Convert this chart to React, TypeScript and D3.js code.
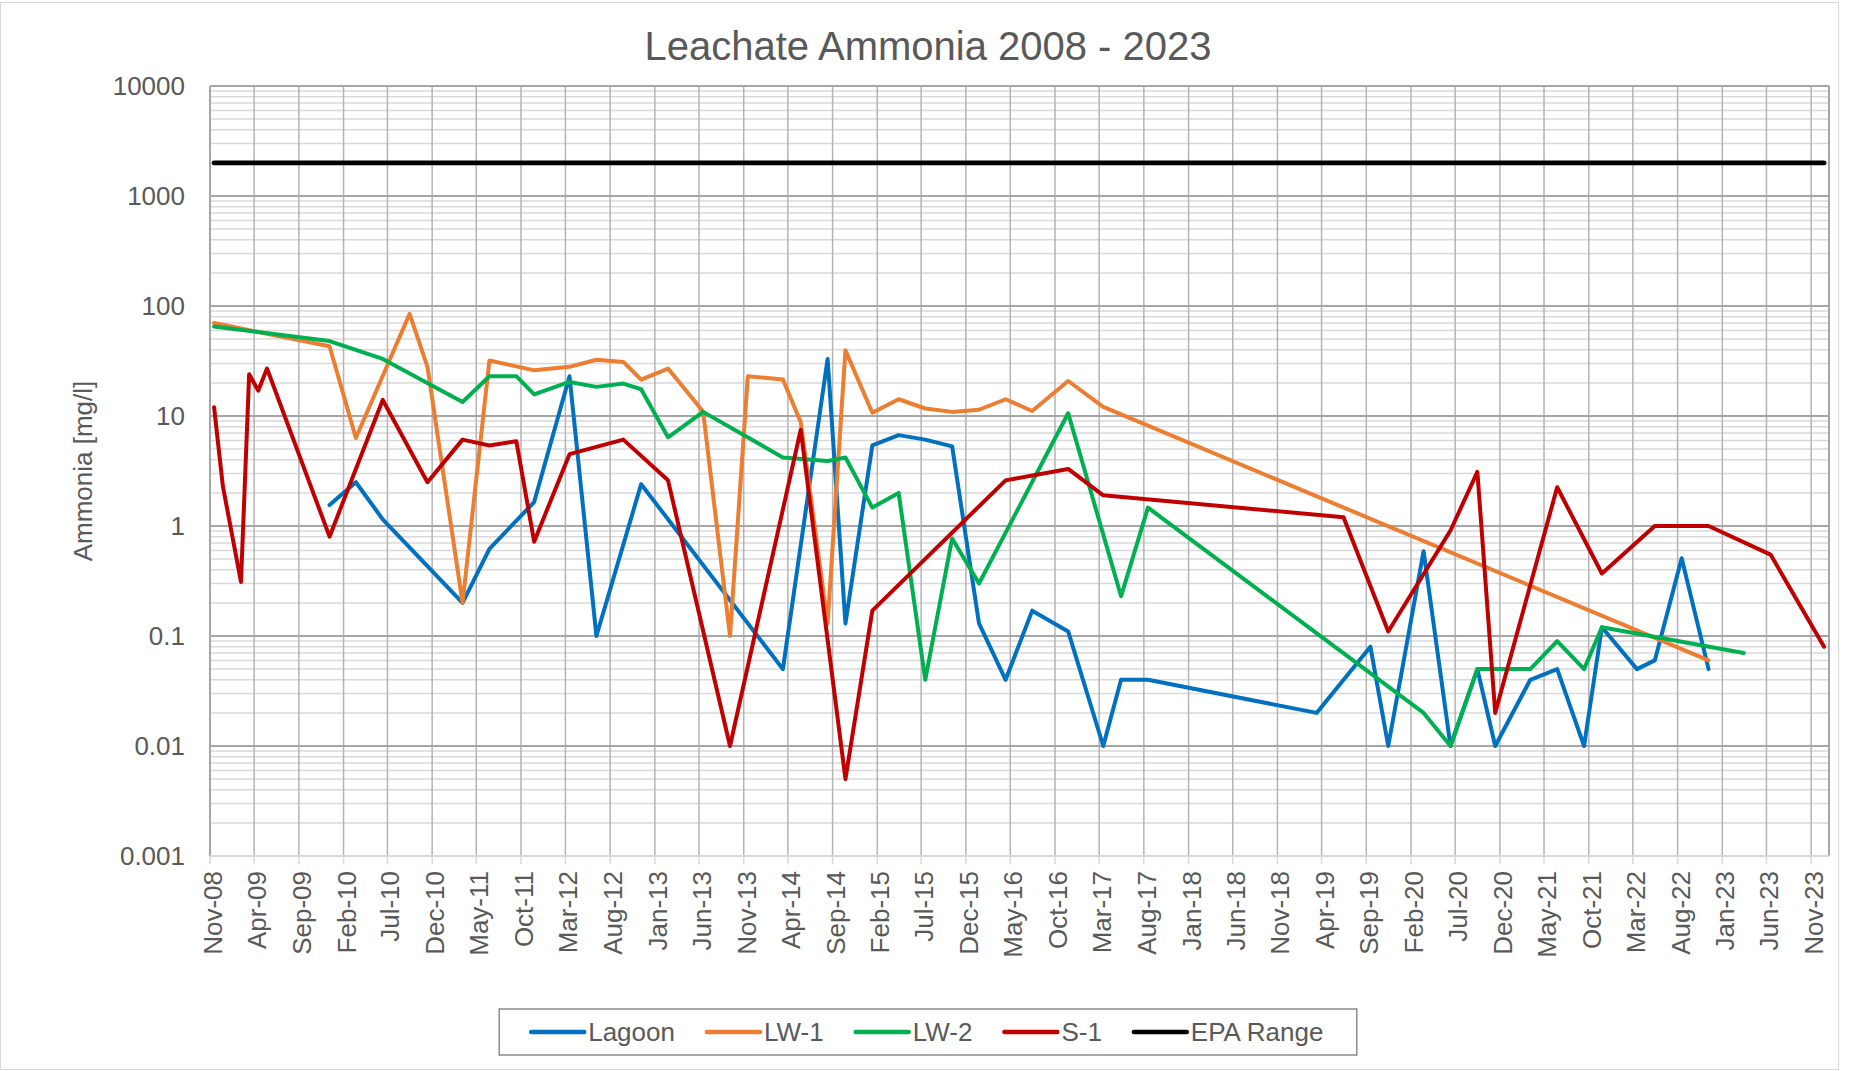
import React, { useEffect, useRef } from "react";
import * as d3 from "d3";

// sampling data (month of sample, value in mg/l)
const tickLabels = ["Nov-08", "Apr-09", "Sep-09", "Feb-10", "Jul-10", "Dec-10", "May-11", "Oct-11", "Mar-12", "Aug-12",
  "Jan-13", "Jun-13", "Nov-13", "Apr-14", "Sep-14", "Feb-15", "Jul-15", "Dec-15", "May-16", "Oct-16", "Mar-17",
  "Aug-17", "Jan-18", "Jun-18", "Nov-18", "Apr-19", "Sep-19", "Feb-20", "Jul-20", "Dec-20", "May-21", "Oct-21",
  "Mar-22", "Aug-22", "Jan-23", "Jun-23", "Nov-23"];

const yTicks = [0.001, 0.01, 0.1, 1, 10, 100, 1000, 10000];

const lagoonDates = ["2009-12", "2010-03", "2010-06", "2011-03", "2011-06", "2011-11", "2012-03", "2012-06", "2012-11", "2014-03",
  "2014-08", "2014-10", "2015-01", "2015-04", "2015-07", "2015-10", "2016-01", "2016-04", "2016-07", "2016-11",
  "2017-03", "2017-05", "2017-08", "2019-03", "2019-09", "2019-11", "2020-03", "2020-06", "2020-09", "2020-11",
  "2021-03", "2021-06", "2021-09", "2021-11", "2022-03", "2022-05", "2022-08", "2022-11"];
const lagoonValues = [1.55, 2.5, 1.15, 0.2, 0.62, 1.65, 23, 0.1, 2.4, 0.05,
  33, 0.13, 5.4, 6.7, 6.1, 5.3, 0.13, 0.04, 0.17, 0.11,
  0.01, 0.04, 0.04, 0.02, 0.08, 0.01, 0.59, 0.01, 0.05, 0.01,
  0.04, 0.05, 0.01, 0.12, 0.05, 0.06, 0.51, 0.05];

const lw1Dates = ["2008-11", "2009-12", "2010-03", "2010-09", "2010-11", "2011-03", "2011-06", "2011-11", "2012-03", "2012-06",
  "2012-09", "2012-11", "2013-02", "2013-06", "2013-09", "2013-11", "2014-03", "2014-05", "2014-08", "2014-10",
  "2015-01", "2015-04", "2015-07", "2015-10", "2016-01", "2016-04", "2016-07", "2016-11", "2017-03", "2022-11"];
const lw1Values = [70, 43, 6.3, 85, 28, 0.2, 32, 26, 28, 32.5,
  31, 21.4, 27, 11, 0.1, 23, 21.5, 8.8, 0.13, 39.5,
  10.7, 14.2, 11.7, 10.9, 11.4, 14.2, 11.1, 20.8, 12.1, 0.06];

const lw2Dates = ["2008-11", "2009-12", "2010-06", "2011-03", "2011-06", "2011-09", "2011-11", "2012-03", "2012-06", "2012-09",
  "2012-11", "2013-02", "2013-06", "2014-03", "2014-08", "2014-10", "2015-01", "2015-04", "2015-07", "2015-10",
  "2016-01", "2016-11", "2017-05", "2017-08", "2020-03", "2020-06", "2020-09", "2021-03", "2021-06", "2021-09",
  "2021-11", "2023-03"];
const lw2Values = [65, 48, 33, 13.4, 23, 23, 15.7, 20.4, 18.4, 19.7,
  17.5, 6.4, 10.9, 4.2, 3.9, 4.2, 1.47, 2.0, 0.04, 0.77,
  0.3, 10.6, 0.23, 1.47, 0.02, 0.01, 0.05, 0.05, 0.09, 0.05,
  0.12, 0.07];

const s1Dates = ["2008-11", "2008-12", "2009-02", "2009-03", "2009-04", "2009-05", "2009-12", "2010-06", "2010-11", "2011-03",
  "2011-06", "2011-09", "2011-11", "2012-03", "2012-09", "2013-02", "2013-09", "2014-05", "2014-10", "2015-01",
  "2016-04", "2016-11", "2017-03", "2019-06", "2019-11", "2020-06", "2020-09", "2020-11", "2021-06", "2021-11",
  "2022-05", "2022-11", "2023-06", "2023-12"];
const s1Values = [12, 2.3, 0.31, 24, 17, 27, 0.8, 14, 2.5, 6.1,
  5.4, 5.9, 0.72, 4.5, 6.1, 2.6, 0.01, 7.5, 0.005, 0.17,
  2.6, 3.3, 1.9, 1.2, 0.11, 0.91, 3.1, 0.02, 2.25, 0.37,
  1.0, 1.0, 0.55, 0.08];

const epaDates = ["2008-11", "2023-12"];
const epaValues = [2000, 2000];

const seriesNames = ["Lagoon", "LW-1", "LW-2", "S-1", "EPA Range"];
const seriesColors = ["#0070C0", "#ED7D31", "#00B050", "#C00000", "#000000"];

const W = 1856;
const H = 1071;
const FONT = "'Liberation Sans', Arial, sans-serif";
const TEXT = "#595959";

export default function App() {
  const ref = useRef<SVGSVGElement>(null);

  useEffect(() => {
    const svg = d3.select(ref.current);
    svg.selectAll("*").remove();

    const margin = { top: 86, right: 27, bottom: 215, left: 210 };
    const x0 = margin.left, x1 = W - margin.right;
    const y0 = margin.top, y1 = H - margin.bottom;

    const x = d3.scaleTime()
      .domain([new Date(2008, 10, 1), new Date(2024, 0, 1)])
      .range([x0, x1]);
    const y = d3.scaleLog().domain([0.001, 10000]).range([y1, y0]);

    const parseMonth = (s: string) => {
      const [yy, mm] = s.split("-").map(Number);
      return new Date(yy, mm - 1, 15);
    };
    const parseTick = d3.timeParse("%b-%y");

    const series = [
      { dates: lagoonDates, values: lagoonValues },
      { dates: lw1Dates, values: lw1Values },
      { dates: lw2Dates, values: lw2Values },
      { dates: s1Dates, values: s1Values },
      { dates: epaDates, values: epaValues },
    ].map((s, i) => ({
      name: seriesNames[i],
      color: seriesColors[i],
      points: s.dates.map((d, j) => ({ date: parseMonth(d), value: s.values[j] })),
    }));

    svg.append("rect").attr("width", W).attr("height", H).attr("fill", "#fff");
    svg.append("rect")
      .attr("x", 0.5).attr("y", 2.5).attr("width", 1838).attr("height", 1067)
      .attr("fill", "none").attr("stroke", "#D9D9D9").attr("stroke-width", 1);

    // minor horizontal grid
    const isMajor = (v: number) => Math.abs(Math.log10(v) - Math.round(Math.log10(v))) < 1e-9;
    svg.append("g").selectAll("line")
      .data(y.ticks().filter(v => !isMajor(v)))
      .join("line")
      .attr("x1", x0).attr("x2", x1)
      .attr("y1", d => y(d)).attr("y2", d => y(d))
      .attr("stroke", "#D9D9D9").attr("stroke-width", 1.5);

    // vertical grid
    const tickDates = tickLabels.map(t => parseTick(t) as Date);
    svg.append("g").selectAll("line")
      .data(tickDates)
      .join("line")
      .attr("x1", d => x(d)).attr("x2", d => x(d))
      .attr("y1", y0).attr("y2", y1)
      .attr("stroke", "#B4B4B4").attr("stroke-width", 1.5);

    // major horizontal grid
    svg.append("g").selectAll("line")
      .data(yTicks)
      .join("line")
      .attr("x1", x0).attr("x2", x1)
      .attr("y1", d => y(d)).attr("y2", d => y(d))
      .attr("stroke", "#A6A6A6").attr("stroke-width", 2);

    // plot border / axes
    svg.append("line").attr("x1", x0).attr("x2", x0).attr("y1", y0).attr("y2", y1)
      .attr("stroke", "#A6A6A6").attr("stroke-width", 2);
    svg.append("line").attr("x1", x1).attr("x2", x1).attr("y1", y0).attr("y2", y1)
      .attr("stroke", "#A6A6A6").attr("stroke-width", 2);
    svg.append("line").attr("x1", x0).attr("x2", x1).attr("y1", y1).attr("y2", y1)
      .attr("stroke", "#D9D9D9").attr("stroke-width", 2);

    // x ticks + labels
    svg.append("g").selectAll("line")
      .data(tickDates)
      .join("line")
      .attr("x1", d => x(d)).attr("x2", d => x(d))
      .attr("y1", y1).attr("y2", y1 + 8)
      .attr("stroke", "#D9D9D9").attr("stroke-width", 1.5);

    svg.append("g").selectAll("text")
      .data(tickLabels)
      .join("text")
      .attr("transform", (d, i) => `translate(${x(tickDates[i]) + 12},${y1 + 15}) rotate(-90)`)
      .attr("text-anchor", "end")
      .attr("font-family", FONT).attr("font-size", 26).attr("fill", TEXT)
      .text(d => d);

    // y labels
    svg.append("g").selectAll("text")
      .data(yTicks)
      .join("text")
      .attr("x", x0 - 25).attr("y", d => y(d) + 9)
      .attr("text-anchor", "end")
      .attr("font-family", FONT).attr("font-size", 26).attr("fill", TEXT)
      .text(d => String(d));

    // lines
    const line = d3.line<{ date: Date; value: number }>()
      .x(d => x(d.date))
      .y(d => y(d.value));

    svg.append("g").selectAll("path")
      .data(series)
      .join("path")
      .attr("d", d => line(d.points))
      .attr("fill", "none")
      .attr("stroke", d => d.color)
      .attr("stroke-width", d => (d.name === "EPA Range" ? 4.8 : 4))
      .attr("stroke-linejoin", "round")
      .attr("stroke-linecap", "round");

    // title
    svg.append("text")
      .attr("x", W / 2).attr("y", 60)
      .attr("text-anchor", "middle")
      .attr("font-family", FONT).attr("font-size", 40).attr("fill", TEXT)
      .text("Leachate Ammonia 2008 - 2023");

    // y axis title
    svg.append("text")
      .attr("transform", `translate(92,${(y0 + y1) / 2}) rotate(-90)`)
      .attr("text-anchor", "middle")
      .attr("font-family", FONT).attr("font-size", 26).attr("fill", TEXT)
      .text("Ammonia [mg/l]");

    // legend
    const ctx = document.createElement("canvas").getContext("2d")!;
    ctx.font = `26px ${FONT}`;
    const lineLen = 53, gapText = 4, gapItem = 32, padX = 32;
    const widths = series.map(s => lineLen + gapText + ctx.measureText(s.name).width);
    const total = d3.sum(widths) + gapItem * (series.length - 1);
    const boxW = total + padX * 2;
    const boxX = W / 2 - boxW / 2;
    const boxY = 1009, boxH = 46;
    const lg = svg.append("g");
    lg.append("rect")
      .attr("x", boxX).attr("y", boxY).attr("width", boxW).attr("height", boxH)
      .attr("fill", "#fff").attr("stroke", "#8C8C8C").attr("stroke-width", 1.5);
    let cx = boxX + padX;
    series.forEach((s, i) => {
      lg.append("line")
        .attr("x1", cx).attr("x2", cx + lineLen)
        .attr("y1", boxY + 23).attr("y2", boxY + 23)
        .attr("stroke", s.color).attr("stroke-width", 4.5).attr("stroke-linecap", "round");
      lg.append("text")
        .attr("x", cx + lineLen + gapText).attr("y", boxY + 32)
        .attr("font-family", FONT).attr("font-size", 26).attr("fill", TEXT)
        .text(s.name);
      cx += widths[i] + gapItem;
    });
  }, []);

  return (
    <svg ref={ref} width={W} height={H} style={{ position: "absolute", left: 0, top: 0 }} />
  );
}
